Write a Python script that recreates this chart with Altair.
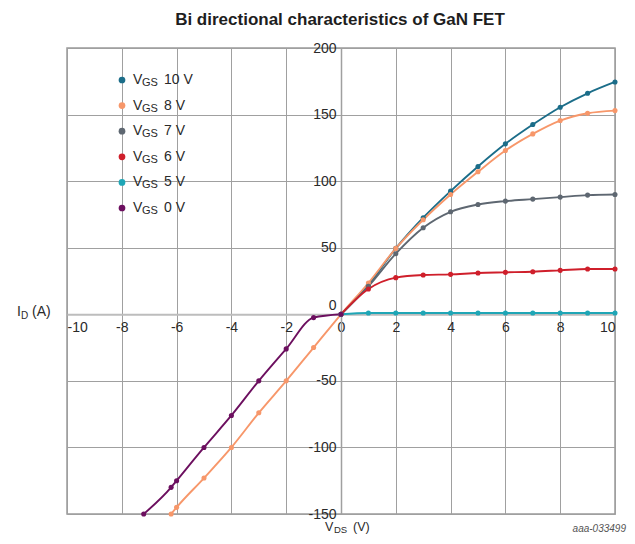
import altair as alt
import pandas as pd

series_names = ["VGS 10 V", "VGS 8 V", "VGS 7 V", "VGS 6 V", "VGS 5 V", "VGS 0 V"]
legend_values = ["10 V", "8 V", "7 V", "6 V", "5 V", "0 V"]
colors = ["#1b6d89", "#f7976a", "#5e6771", "#cf1f2b", "#1fa6b6", "#6c0f5f"]

vds_10 = [0, 1, 2, 3, 4, 5, 6, 7, 8, 9, 10]
id_10 = [0, 22, 49.5, 72.5, 92.5, 111, 128, 142.5, 155.5, 166, 174.5]

vds_8 = [-6.2, -6, -5, -4, -3, -2, -1, 0, 1, 2, 3, 4, 5, 6, 7, 8, 9, 10]
id_8 = [-150, -145, -123, -100, -74, -50, -25, 0, 23.5, 49.5, 71, 90, 107, 123, 135.5, 145.5, 151, 153]

vds_7 = [0, 1, 2, 3, 4, 5, 6, 7, 8, 9, 10]
id_7 = [0, 21, 45.5, 65, 77, 82.5, 85, 86.5, 88, 89.5, 90]

vds_6 = [0, 1, 2, 3, 4, 5, 6, 7, 8, 9, 10]
id_6 = [0, 19, 27.5, 29.5, 30, 31, 31.5, 32, 33, 34, 34]

vds_5 = [0, 1, 2, 3, 4, 5, 6, 7, 8, 9, 10]
id_5 = [0, 1, 1, 1, 1, 1, 1, 1, 1, 1, 1]

vds_0 = [-7.2, -6.2, -6, -5, -4, -3, -2, -1, 0]
id_0 = [-150, -130, -125, -100, -76, -50, -26, -2.5, 0]

x_ticks = [-10, -8, -6, -4, -2, 0, 2, 4, 6, 8, 10]
y_ticks = [-150, -100, -50, 0, 50, 100, 150, 200]

all_x = [vds_10, vds_8, vds_7, vds_6, vds_5, vds_0]
all_y = [id_10, id_8, id_7, id_6, id_5, id_0]

rows = []
for k, (name, xs, ys) in enumerate(zip(series_names, all_x, all_y)):
    for xv, yv in zip(xs, ys):
        rows.append({"series": name, "vds": xv, "id": yv, "k": k})
df = pd.DataFrame(rows)

FONT = "Liberation Sans"
TXT = "#2a2a2a"
W, H = 548, 466
y0_px = H * 200 / 350   # pixel of I=0 from top
x0_px = W * 10 / 20     # pixel of V=0 from left

color = alt.Color("series:N", scale=alt.Scale(domain=series_names, range=colors), legend=None)

xenc = alt.X("vds:Q", scale=alt.Scale(domain=[-10, 10], nice=False, zero=False),
             axis=alt.Axis(values=x_ticks, title=None, grid=True, gridColor="#a0a0a0", gridWidth=1,
                           domainColor="#bdbdbd", domainWidth=2, ticks=False,
                           labelExpr="'' + datum.value",
                           labelPadding=6, labelFont=FONT, labelFontSize=14, labelColor=TXT,
                           offset=-(H - y0_px)))
yenc = alt.Y("id:Q", scale=alt.Scale(domain=[-150, 200], nice=False, zero=False),
             axis=alt.Axis(values=y_ticks, title=None, grid=True, gridColor="#a0a0a0", gridWidth=1,
                           domainColor="#a0a0a0", domainWidth=1.5, ticks=False,
                           labelExpr="'' + datum.value",
                           labelPadding=5, labelFont=FONT, labelFontSize=14, labelColor=TXT,
                           labelOffset={"condition": {"test": "datum.value === 0", "value": -9}, "value": 0},
                           offset=-x0_px))

base = alt.Chart(df)
lines = base.mark_line(interpolate="monotone", strokeWidth=1.9).encode(
    x=xenc, y=yenc, color=color, detail="series:N", order=alt.Order("vds:Q"))
points = base.mark_circle(size=26, opacity=1).encode(
    x="vds:Q", y="id:Q", color=color)

layers = [lines, points]

one = pd.DataFrame({"a": [0]})


def label(text, x, y, size=14, align="left", **kw):
    return alt.Chart(one).mark_text(text=text, align=align, baseline="middle", font=FONT,
                                    fontSize=size, color=kw.pop("color", TXT), **kw).encode(
        x=alt.value(x), y=alt.value(y))


# custom legend with subscripts
for i, (val, col) in enumerate(zip(legend_values, colors)):
    ly = 32 + i * 25.6
    layers.append(alt.Chart(one).mark_circle(size=45, color=col, opacity=1).encode(
        x=alt.value(55), y=alt.value(ly)))
    layers.append(label("V", 66, ly))
    layers.append(label("GS", 75, ly + 3, size=11))
    layers.append(label(val, 97, ly))

# y axis title I_D (A)
layers.append(label("I", -50, y0_px - 2))
layers.append(label("D", -46, y0_px + 2, size=10))
layers.append(label("(A)", -35, y0_px - 2))
# x axis title V_DS (V)
layers.append(label("V", 258, H + 13, size=12.5))
layers.append(label("DS", 267, H + 16, size=9.5))
layers.append(label("(V)", 286, H + 13, size=12.5))
# figure id
layers.append(label("aaa-033499", 559, H + 15, size=10, align="right", fontStyle="italic", color="#555"))
# title
layers.append(label("Bi directional characteristics of GaN FET", 273, -28, size=17, align="center",
                    fontWeight="bold", color="#1e1e1e"))

chart = alt.layer(*layers).properties(
    width=W, height=H,
    autosize=alt.AutoSizeParams(type="none"),
    padding={"left": 59, "top": 40, "right": 12, "bottom": 22},
    background="white",
).configure_view(stroke="#9a9a9a", strokeWidth=1.5)

chart.save("out.html", embed_options={"renderer": "svg", "actions": False})
